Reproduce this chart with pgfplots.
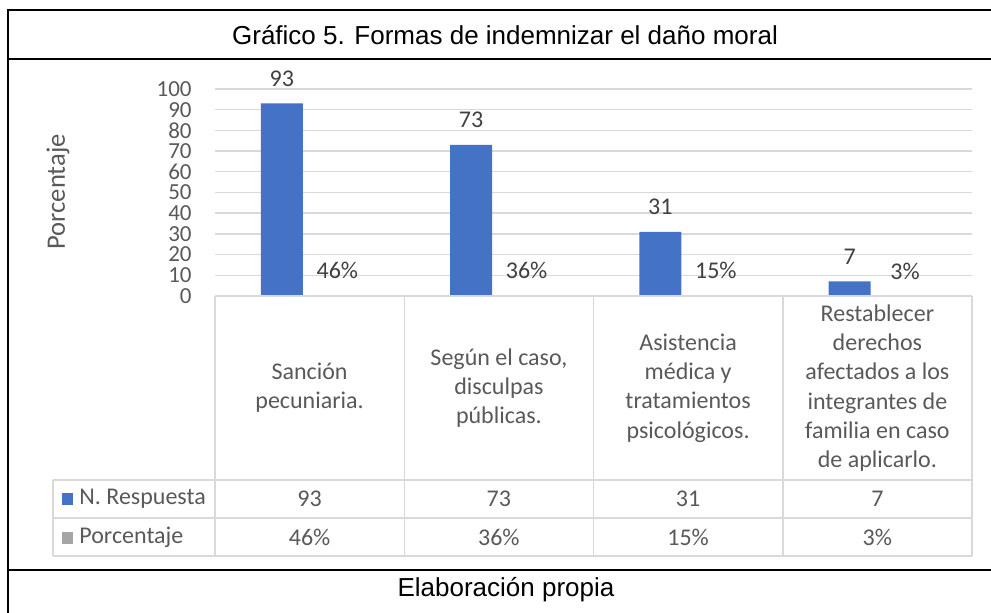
\documentclass[border=0pt]{standalone}
\usepackage{pgfplots}
\pgfplotsset{compat=1.18}
\usepackage{pgfplotstable}
\usepackage{fontspec}
\setmainfont{Carlito}
\newfontfamily\arialf{Liberation Sans}
\definecolor{barblue}{HTML}{4472C4}
\definecolor{bargray}{HTML}{A5A5A5}
\definecolor{gridc}{HTML}{D9D9D9}
\definecolor{txt}{HTML}{595959}
\definecolor{lbl}{HTML}{404040}

\pgfplotstableread{
x y
0 93
1 73
2 31
3 7
}\resp
\pgfplotstableread{
x y m
0 0.46 46
1 0.36 36
2 0.15 15
3 0.03 3
}\porc

\newcommand{\cf}{\fontsize{12}{14.65}\selectfont}

\begin{document}
\begin{tikzpicture}[x=0.5pt,y=0.5pt]
\useasboundingbox (0,0) rectangle (991,613);
\begin{axis}[
 at={(107.5pt,158.5pt)}, anchor=south west,
 scale only axis, width=378.5pt, height=103.5pt,
 xmin=-0.5, xmax=3.5, ymin=0, ymax=100,
 ybar, bar width=21pt,
 ytick={0,10,...,100}, xtick=\empty,
 ymajorgrids, grid style={gridc, line width=0.7pt},
 axis line style={draw=none}, major tick length=0pt,
 /pgf/number format/assume math mode=true,
 yticklabel style={font=\fontsize{11.5}{12}\selectfont, text=txt, anchor=east, inner sep=0pt, xshift=-11.5pt},
 nodes near coords style={font=\cf, text=lbl, anchor=center, yshift=12.5pt},
 clip=false,
]
\addplot[fill=barblue, draw=none, bar shift=-13.875pt, nodes near coords] table[x=x,y=y]{\resp};
\addplot[fill=bargray, draw=none, bar shift=13.875pt, point meta=explicit, nodes near coords={\pgfmathprintnumber{\pgfplotspointmeta}\%}] table[x=x,y=y,meta=m]{\porc};
\end{axis}

% data table
\draw[gridc, line width=0.75pt] (215,317) -- (972,317);
\draw[gridc, line width=0.75pt] (53,133) -- (972,133);
\draw[gridc, line width=0.75pt] (53,95) -- (972,95);
\draw[gridc, line width=0.75pt] (53,57) -- (972,57);
\draw[gridc, line width=0.75pt] (53,133) -- (53,57);
\foreach \xx in {215,404.25,593.5,782.75,972} {
  \draw[gridc, line width=0.75pt] (\xx,317) -- (\xx,57);
}
\node[align=center, text=txt, font=\cf] at (309.6,225) {Sanción\\pecuniaria.};
\node[align=center, text=txt, font=\cf] at (498.9,225) {Según el caso,\\disculpas\\públicas.};
\node[align=center, text=txt, font=\cf] at (688.1,225) {Asistencia\\médica y\\tratamientos\\psicológicos.};
\node[align=center, text=txt, font=\cf] at (877.4,225) {Restablecer\\derechos\\afectados a los\\integrantes de\\familia en caso\\de aplicarlo.};

\fill[barblue] (61.7,108.4) rectangle (73.3,120.0);
\fill[bargray] (61.7,69.4) rectangle (73.3,81.0);
\node[anchor=west, text=txt, font=\cf, inner sep=0pt] at (79,114) {N. Respuesta};
\node[anchor=west, text=txt, font=\cf, inner sep=0pt] at (79,76) {Porcentaje};

\node[text=txt, font=\cf] at (309.6,114) {93};
\node[text=txt, font=\cf] at (498.9,114) {73};
\node[text=txt, font=\cf] at (688.1,114) {31};
\node[text=txt, font=\cf] at (877.4,114) {7};
\node[text=txt, font=\cf] at (309.6,76) {46\%};
\node[text=txt, font=\cf] at (498.9,76) {36\%};
\node[text=txt, font=\cf] at (688.1,76) {15\%};
\node[text=txt, font=\cf] at (877.4,76) {3\%};

\node[rotate=90, text=txt, font=\fontsize{13.3}{15}\selectfont] at (58,421) {Porcentaje};

% frame
\draw[black, line width=1pt] (8,0) -- (8,603) -- (991,603);
\draw[black, line width=1pt] (8,554) -- (991,554);
\draw[black, line width=1pt] (8,43) -- (991,43);
\node[font=\arialf\fontsize{13}{15}\selectfont] at (505,578) {Gráfico 5. Formas de indemnizar el daño moral};
\node[font=\arialf\fontsize{13}{15}\selectfont] at (506,23) {Elaboración propia};
\end{tikzpicture}
\end{document}
